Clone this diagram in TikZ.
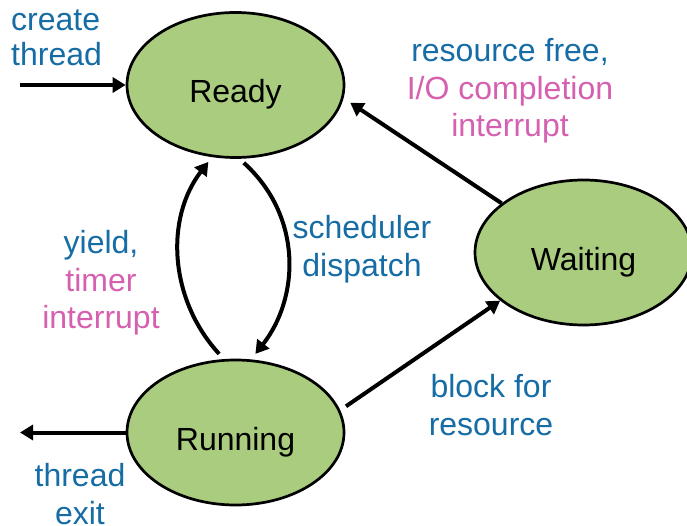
\documentclass[tikz,border=0pt]{standalone}
\usepackage{fontspec}
\setmainfont{Liberation Sans}
\usetikzlibrary{shapes.geometric,arrows.meta}
\definecolor{stategreen}{RGB}{169,204,126}
\definecolor{lblblue}{RGB}{22,108,164}
\definecolor{lblpink}{RGB}{214,96,176}
% state names sit a little below the centre of their ellipse
\newcommand{\statename}[1]{\raisebox{-17.5pt}[0pt][0pt]{#1}}
\tikzset{
  x=1pt,y=1pt,
  state/.style={ellipse,draw=black,line width=2.7pt,fill=stategreen,inner sep=0pt,
    minimum width=217pt,minimum height=145pt,font=\fontsize{32}{38}\selectfont},
  trans/.style={line width=4pt,-{Triangle[length=13pt,width=15pt]}},
  lbl/.style={text=lblblue,align=center,inner sep=0pt,font=\fontsize{32}{37.5}\selectfont},
}
\begin{document}
\begin{tikzpicture}
\useasboundingbox (0,0) rectangle (687,-526);
% states
\node[state] (ready) at (235.5,-85) {\statename{Ready}};
\node[state] (running) at (235.5,-432.5) {\statename{Running}};
\node[state] (waiting) at (583.5,-252.5) {\statename{Waiting}};
% free ends of the entry and exit arrows
\coordinate (enter) at (20,-85);
\coordinate (leave) at (20,-432.5);
% transitions
\draw[trans] (enter) -- (ready.west);
\draw[trans] (running.west) -- (leave);
\draw[trans,shorten <=6pt,shorten >=7pt] (ready.-87) .. controls +(64,-58) and +(48,61) .. (running.78);
\draw[trans,shorten <=7pt,shorten >=6pt] (running.99) .. controls +(-55,60) and +(-47,-61) .. (ready.-108);
\draw[trans,shorten >=8pt] (waiting.149) -- (ready.-7.5);
\draw[trans,shorten <=7pt] (running.12.6) -- (waiting.210);
% labels
\node[lbl,align=left,anchor=north west,font=\fontsize{32}{35}\selectfont] (lcreate) at (11,-10) {create\\thread};
\node[lbl] (lfree) at (510,-91) {resource free,\\\textcolor{lblpink}{I/O completion}\\\textcolor{lblpink}{interrupt}};
\node[lbl] (ldispatch) at (362,-249) {scheduler\\dispatch};
\node[lbl] (lyield) at (101,-283) {yield,\\\textcolor{lblpink}{timer}\\\textcolor{lblpink}{interrupt}};
\node[lbl] (lblock) at (491,-405) {block for\\resource};
\node[lbl] (lexit) at (80,-494) {thread\\exit};
\end{tikzpicture}
\end{document}
